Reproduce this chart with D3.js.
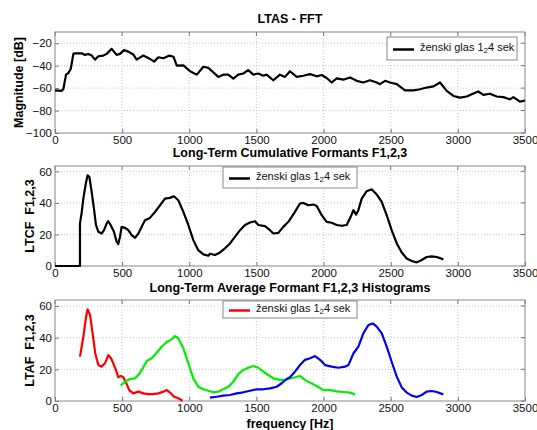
<!DOCTYPE html>
<html><head><meta charset="utf-8">
<script src="https://cdn.jsdelivr.net/npm/d3@7/dist/d3.min.js"></script>
<style>
body{margin:0;background:#fff;}
text{font-family:"Liberation Sans",Arial,sans-serif;}
</style></head><body>
<svg id="c" width="537" height="430"></svg>
<script>
// ---- data ----
const xTicks = [0,500,1000,1500,2000,2500,3000,3500];
const ltasTicks = [-100,-80,-60,-40,-20];
const formTicks = [0,20,40,60];
const titles = ["LTAS - FFT","Long-Term Cumulative Formants F1,2,3","Long-Term Average Formant F1,2,3 Histograms"];
const yLabels = ["Magnitude [dB]","LTCF  F1,2,3","LTAF  F1,2,3"];
const xLabel = "frequency [Hz]";
const legendMain = "ženski glas 1", legendSub = "2", legendTail = "4 sek";

const ltasFreq = [0,50,62,82,99,117,137,149,199,223,248,273,298,323,360,385,422,459,484,514,546,583,608,658,708,738,770,807,852,882,907,956,1006,1056,1105,1142,1179,1216,1253,1290,1328,1365,1402,1439,1477,1514,1551,1576,1626,1675,1713,1750,1800,1849,1899,1949,1986,2023,2060,2098,2147,2197,2247,2296,2346,2396,2420,2458,2495,2545,2607,2669,2718,2768,2818,2867,2917,2967,3016,3066,3103,3152,3190,3239,3289,3339,3388,3413,3463,3500];
const ltasDb = [-62,-62.4,-61,-48,-46.6,-43,-29.5,-29,-29,-30.4,-29.6,-31,-34.6,-31.6,-31,-29.5,-25,-30.4,-29.5,-26,-27.5,-30,-34.6,-31,-34,-36.4,-32.5,-33.4,-31,-32,-40,-39.7,-45,-48,-41,-42,-46,-50,-48,-48,-51.5,-48,-47,-44,-48,-47,-49,-48,-53,-48,-50,-45,-50,-49,-47.5,-49.5,-48.3,-51,-55,-51.3,-52.5,-50.5,-53.5,-55,-53,-55,-56.5,-53.5,-55,-56.5,-62,-62,-61,-59.5,-58.5,-55,-62.5,-67,-68.5,-67.5,-65.5,-63,-66,-65,-67.5,-68,-70,-68,-72,-71];

const ltcfFreq = [0,186,186,199,211,231,243,256,273,290,305,323,347,365,385,397,414,439,459,471,484,496,521,546,571,596,621,645,670,707,745,782,819,856,886,918,956,993,1030,1067,1105,1142,1154,1191,1229,1266,1303,1340,1378,1415,1452,1489,1514,1564,1601,1626,1663,1700,1738,1787,1824,1849,1887,1924,1949,1986,2023,2060,2098,2135,2172,2202,2222,2242,2259,2284,2321,2358,2396,2433,2470,2507,2545,2582,2619,2657,2694,2731,2768,2805,2843,2892];
const ltcfVal = [0,0,27,34,42.7,53,57.5,56.4,47,36.4,26,21.7,20.6,22.7,27,28.4,26,21.7,15.4,13.9,18.5,24.8,24.2,22.7,19.6,17.9,20.6,24.8,29,30.5,34.3,38.5,42.7,43.2,44.2,41.7,34.3,26,16.4,10,7.4,6.5,7.8,7,8.6,11.2,14.3,18.5,22.7,26,27.6,28.4,26,25.3,22.7,20.6,21,24.8,28,34.3,39.6,40,38.5,39,38,32.2,28,27.4,26,25.5,26,31.2,35.4,32.6,35.4,42.7,47.4,48.6,45.3,40.6,32.2,22.7,14.3,8.6,4.8,3.2,2.3,3.8,5.7,6.1,5.7,4.2];

const f1Freq = [186,211,231,243,261,280,300,323,347,372,397,417,434,454,471,489,509,529,553,583,621,658,695,732,770,807,832,857,886,918,950];
const f1Val = [28,40.6,53,57.9,54.3,42.7,30,22.7,21.7,23.8,29,27,23.8,19.6,15,15.8,15,11.6,6.9,4.8,5.9,4.8,4.4,4.4,4.8,5.9,6.9,5.3,2.7,1.7,0.2];

const f2Freq = [489,521,558,596,621,653,683,720,757,794,832,861,894,918,956,993,1030,1067,1105,1142,1179,1216,1253,1291,1328,1365,1402,1440,1477,1514,1551,1589,1626,1676,1713,1750,1787,1824,1862,1899,1949,1999,2048,2098,2147,2197,2234];
const f2Val = [9.7,12.2,13.9,14.3,16.4,20.6,25.3,27,30.5,34.3,37.3,38.5,41,39.6,33.3,23.8,14.3,9,7.4,6.5,5.5,5.9,7.4,9,12.2,17,19.6,21,22.1,21,18.5,16.4,14.3,13.3,13.3,14.3,15,15.8,13.3,11.6,9.5,6.9,6.9,6.1,5.7,5.3,4.2];

const f3Freq = [1154,1204,1253,1303,1353,1402,1452,1502,1551,1601,1651,1688,1725,1750,1787,1824,1862,1899,1936,1974,2011,2060,2110,2160,2185,2222,2259,2296,2334,2366,2396,2433,2470,2507,2545,2582,2619,2657,2694,2731,2768,2805,2843,2892];
const f3Val = [2.1,2.7,3.4,3.8,4.8,5.5,6.5,7.4,7.4,8,9,11.2,13.9,15,18.5,22.7,26,27,28.4,26,22.7,21.7,21,21.7,22.7,30,34.3,42.7,48,49,47,42.7,34.3,24.8,15.4,8.6,5.3,3.4,2.5,3.8,5.9,6.3,5.7,4.2];

// ---- drawing ----
const svg = d3.select("#c");
const L = 55, R = 525;
const x = d3.scaleLinear().domain([0,3500]).range([L,R]);

const panels = [
  {top:32, bot:133, dom:[-100,-10], ticks:ltasTicks, title:titles[0], ty:23, ylab:yLabels[0], ylx:19,
   series:[{fx:ltasFreq, fy:ltasDb, c:"#000"}], leg:{x:387,y:37,w:130,h:23,c:"#000"}},
  {top:166, bot:266, dom:[0,63.4], ticks:formTicks, title:titles[1], ty:157, ylab:yLabels[1], ylx:30,
   series:[{fx:ltcfFreq, fy:ltcfVal, c:"#000"}], leg:{x:223,y:167,w:134,h:21,c:"#000"}},
  {top:300, bot:401, dom:[0,63.8], ticks:formTicks, title:titles[2], ty:292, ylab:yLabels[2], ylx:30,
   series:[{fx:f1Freq, fy:f1Val, c:"#ff0000"},{fx:f2Freq, fy:f2Val, c:"#00ee00"},{fx:f3Freq, fy:f3Val, c:"#0000ff"}],
   leg:{x:223,y:301,w:134,h:17,c:"#ff0000"}}
];

panels.forEach(p => {
  const y = d3.scaleLinear().domain(p.dom).range([p.bot,p.top]);
  const g = svg.append("g");
  g.append("rect").attr("x",L).attr("y",p.top).attr("width",R-L).attr("height",p.bot-p.top).attr("fill","#fff");
  // grid
  const grid = g.append("g").attr("stroke","#bbb").attr("stroke-width",0.8).attr("stroke-dasharray","1,2");
  xTicks.slice(1,-1).forEach(t => grid.append("line").attr("x1",x(t)).attr("x2",x(t)).attr("y1",p.top).attr("y2",p.bot));
  p.ticks.forEach(t => { if (y(t) > p.top+1 && y(t) < p.bot-1) grid.append("line").attr("x1",L).attr("x2",R).attr("y1",y(t)).attr("y2",y(t)); });
  // axes
  const xa = g.append("g").attr("transform",`translate(0,${p.bot})`)
    .call(d3.axisBottom(x).tickValues(xTicks).tickSize(-4).tickPadding(3).tickFormat(d3.format("d")));
  const ya = g.append("g").attr("transform",`translate(${L},0)`)
    .call(d3.axisLeft(y).tickValues(p.ticks).tickSize(-4).tickPadding(3));
  [xa,ya].forEach(a => {
    a.select(".domain").remove();
    a.selectAll("line").attr("stroke","#777");
    a.selectAll("text").attr("font-size","11.5px").attr("fill","#111").style("font-family","'Liberation Sans',Arial,sans-serif");
  });
  // right ticks / top ticks
  p.ticks.forEach(t => g.append("line").attr("x1",R).attr("x2",R-4).attr("y1",y(t)).attr("y2",y(t)).attr("stroke","#777"));
  xTicks.forEach(t => g.append("line").attr("x1",x(t)).attr("x2",x(t)).attr("y1",p.top).attr("y2",p.top+4).attr("stroke","#777"));
  g.append("rect").attr("x",L).attr("y",p.top).attr("width",R-L).attr("height",p.bot-p.top)
    .attr("fill","none").attr("stroke","#888").attr("stroke-width",1);
  // lines
  p.series.forEach(s => {
    const pts = s.fx.map((f,i)=>[f,s.fy[i]]);
    g.append("path").datum(pts)
      .attr("d", d3.line().x(d=>x(d[0])).y(d=>y(d[1])).curve(d3.curveLinear))
      .attr("fill","none").attr("stroke",s.c).attr("stroke-width",2.2).attr("stroke-linejoin","round");
  });
  // title
  g.append("text").attr("x",290).attr("y",p.ty).attr("text-anchor","middle")
    .attr("font-size","12.5px").attr("font-weight","bold").text(p.title);
  // y label
  g.append("text").attr("transform",`translate(${p.ylx},${(p.top+p.bot)/2}) rotate(-90)`)
    .attr("text-anchor","middle").attr("dy","0.35em").attr("font-size","12.5px").attr("font-weight","bold")
    .style("white-space","pre").text(p.ylab);
  // legend
  const lg = p.leg;
  g.append("rect").attr("x",lg.x).attr("y",lg.y).attr("width",lg.w).attr("height",lg.h)
    .attr("fill","#fff").attr("stroke","#888").attr("stroke-width",1);
  const cy = lg.y + lg.h/2 + 1;
  g.append("line").attr("x1",lg.x+6).attr("x2",lg.x+27).attr("y1",cy).attr("y2",cy).attr("stroke",lg.c).attr("stroke-width",2.5);
  const t = g.append("text").attr("x",lg.x+33).attr("y",cy+1).attr("font-size","11px").attr("fill","#111");
  t.append("tspan").text(legendMain);
  t.append("tspan").attr("baseline-shift","-30%").attr("font-size","8px").text(legendSub);
  t.append("tspan").text(legendTail);
});

svg.append("text").attr("x",290).attr("y",428).attr("text-anchor","middle")
  .attr("font-size","12.5px").attr("font-weight","bold").text(xLabel);
</script>
</body></html>
